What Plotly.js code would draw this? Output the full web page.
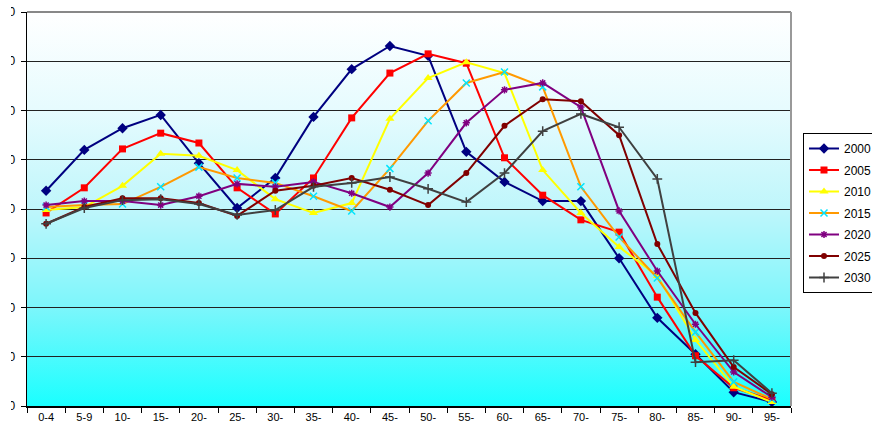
<!DOCTYPE html>
<html>
<head>
<meta charset="utf-8">
<script src="https://cdn.plot.ly/plotly-3.0.1.min.js"></script>
<style>
  html, body { margin: 0; padding: 0; background: #ffffff; }
  #wrap { position: relative; width: 872px; height: 433px; overflow: hidden; }
  #bg { position: absolute; left: 27px; top: 12px; width: 764px; height: 394px;
        background: linear-gradient(to bottom, #ffffff 0%, #e6fbfe 25%, #bff6fb 50%, #7cf6fb 75%, #1affff 100%); }
  #clip { position: absolute; left: 11px; top: 0; width: 861px; height: 433px; overflow: hidden; }
  #chart { position: absolute; left: -11px; top: 0; width: 910px; height: 433px; }
</style>
</head>
<body>
<div id="wrap">
  <div id="bg"></div>
  <div id="clip"><div id="chart"></div></div>
</div>
<script>
const ages = ["0-4","5-9","10-","15-","20-","25-","30-","35-","40-","45-","50-","55-","60-","65-","70-","75-","80-","85-","90-","95-"];
const y2000 = [437,520,564,591,493,402,463,587,684,731,711,516,455,416,416,300,179,105,28,8];
const y2005 = [392,443,522,554,534,443,390,463,585,676,715,696,504,428,378,353,221,102,37,12];
const y2010 = [398,404,447,512,508,479,420,392,412,583,666,698,676,479,392,323,264,134,39,8];
const y2015 = [404,408,410,445,485,463,453,426,396,482,579,656,678,648,445,343,260,150,49,14];
const y2020 = [408,416,416,408,426,451,445,455,432,404,473,575,642,656,607,396,274,166,69,18];
const y2025 = [370,404,422,422,412,386,437,447,463,439,408,473,569,623,619,550,329,189,79,24];
const y2030 = [370,402,418,420,410,388,398,445,453,465,441,414,473,558,593,566,461,89,93,26];
const seriesNames = ["2000","2005","2010","2015","2020","2025","2030"];
const yTickVals = [0,100,200,300,400,500,600,700,800];
const yTickText = ["0","100","200","300","400","500","600","700","800"];

const styles = [
  {line:"#000080", marker:{symbol:"diamond", size:8, color:"#000080"}},
  {line:"#ff0000", marker:{symbol:"square", size:7, color:"#ff0000"}},
  {line:"#ffff00", marker:{symbol:"triangle-up", size:8, color:"#ffff00"}},
  {line:"#ff9900", marker:{symbol:"x-thin-open", size:7, color:"#00e5ff", line:{width:1.5, color:"#00e5ff"}}},
  {line:"#800080", marker:{symbol:"asterisk-open", size:6, color:"#800080", line:{width:1.5, color:"#800080"}}},
  {line:"#800000", marker:{symbol:"circle", size:6, color:"#800000"}},
  {line:"#404040", marker:{symbol:"cross-thin-open", size:7, color:"#404040", line:{width:1.5, color:"#404040"}}}
];
const allY = [y2000,y2005,y2010,y2015,y2020,y2025,y2030];

const traces = allY.map((ys, i) => ({
  type: "scatter", mode: "lines+markers",
  x: ages, y: ys, name: seriesNames[i], legendgroup: seriesNames[i],
  line: {color: styles[i].line, width: 2},
  marker: styles[i].marker,
  cliponaxis: false
}));

const layout = {
  width: 910, height: 433,
  margin: {l: 27, r: 119, t: 12, b: 27},
  paper_bgcolor: "rgba(0,0,0,0)",
  plot_bgcolor: "rgba(0,0,0,0)",
  font: {family: "Liberation Sans, Arial, sans-serif", size: 11, color: "#000"},
  showlegend: true,
  legend: {
    x: (803-27)/764, xanchor: "left", y: (406-133)/394, yanchor: "top",
    bgcolor: "#ffffff", bordercolor: "#000000", borderwidth: 1,
    font: {size: 12, color: "#000"}, itemwidth: 30, tracegroupgap: 2.5
  },
  xaxis: {
    type: "category", range: [-0.5, 19.5], tickson: "boundaries",
    ticks: "outside", ticklen: 5, tickcolor: "#000", tickwidth: 1,
    showline: true, linecolor: "#000", linewidth: 1.5,
    showgrid: false, zeroline: false, fixedrange: true,
    tickfont: {size: 11}
  },
  yaxis: {
    range: [0, 800], tickvals: yTickVals, ticktext: yTickText,
    ticks: "outside", ticklen: 5, tickcolor: "#000", tickwidth: 1,
    ticklabelstandoff: 3,
    showline: true, linecolor: "#000", linewidth: 1.5,
    showgrid: true, gridcolor: "#222", gridwidth: 1,
    zeroline: false, fixedrange: true, tickfont: {size: 12}
  },
  shapes: [
    {type: "line", xref: "paper", yref: "paper", x0: 0, x1: 1, y0: 1, y1: 1, line: {color: "#888", width: 2}},
    {type: "line", xref: "paper", yref: "paper", x0: 1, x1: 1, y0: 0, y1: 1, line: {color: "#999", width: 2}}
  ]
};

Plotly.newPlot("chart", traces, layout, {displayModeBar: false, staticPlot: true});
</script>
</body>
</html>
